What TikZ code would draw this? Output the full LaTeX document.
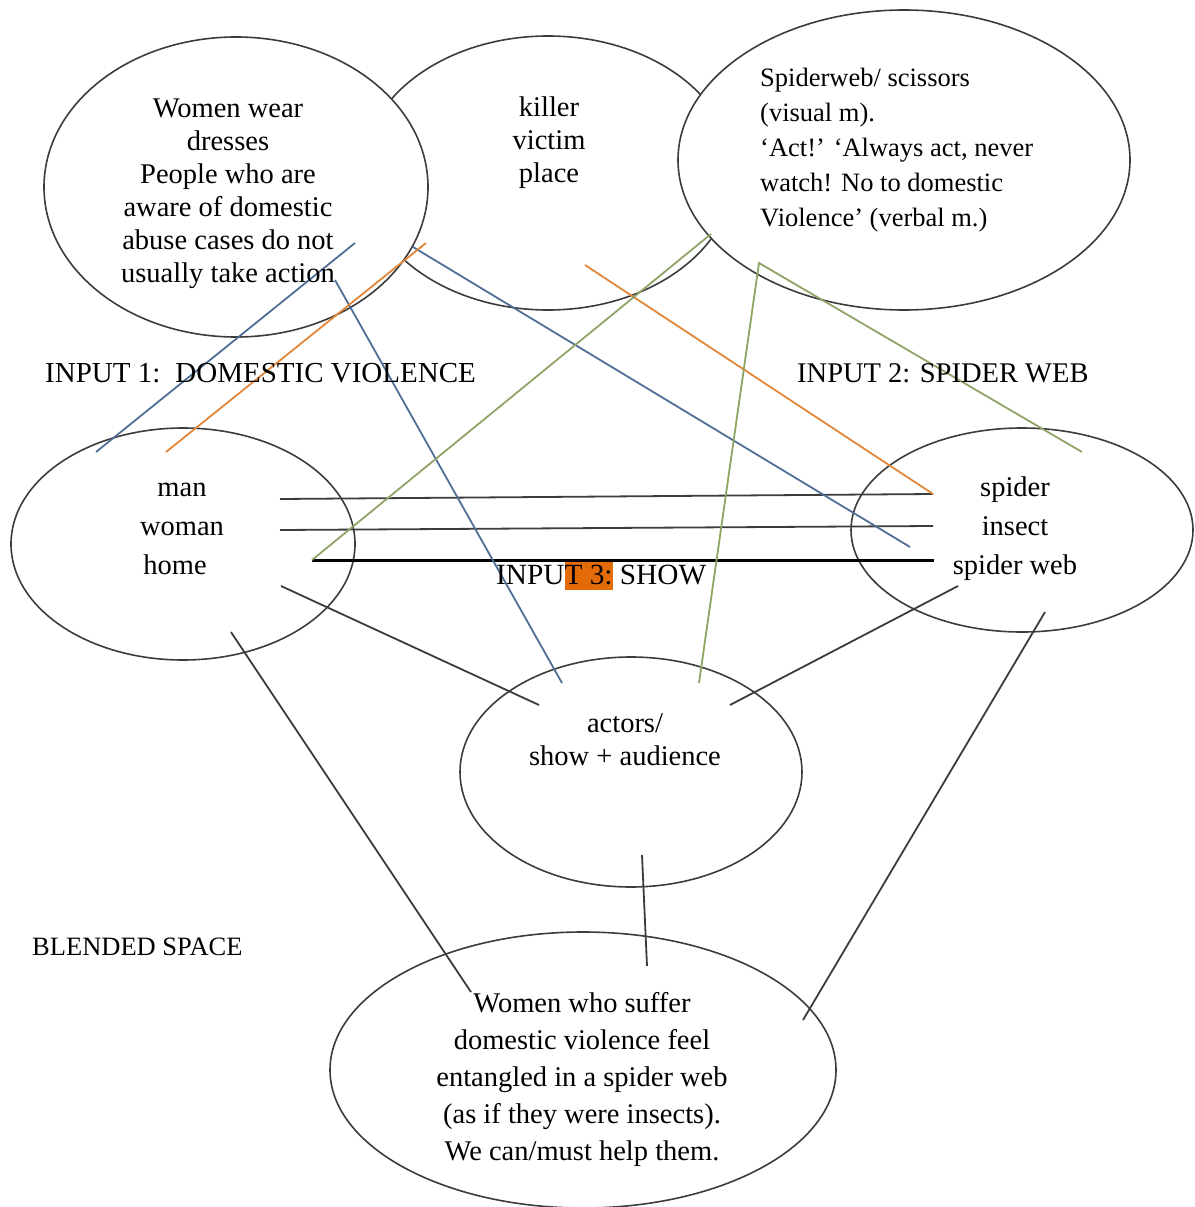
\documentclass[tikz,border=0pt]{standalone}
\usepackage{fontspec}
\setmainfont{Liberation Serif}
\usetikzlibrary{shapes.geometric}

\definecolor{ink}{HTML}{3C3C3C}
\definecolor{linkblue}{HTML}{4F6F96}
\definecolor{linkorange}{HTML}{E2863A}
\definecolor{linkgreen}{HTML}{8FA466}
\definecolor{hlorange}{HTML}{E36C09}

\tikzset{
  space/.style={ellipse, draw=ink, line width=1.6pt, fill=white, inner sep=0pt},
  txt/.style={inner sep=0pt, font=\fontsize{28.5}{33}\selectfont, align=center},
  label/.style={inner sep=0pt, anchor=west, font=\fontsize{29.3}{33}\selectfont},
  link/.style={line width=1.8pt, ink},
  bluelink/.style={line width=1.8pt, linkblue},
  orangelink/.style={line width=1.8pt, linkorange},
  greenlink/.style={line width=1.8pt, linkgreen},
}

\begin{document}
\begin{tikzpicture}[x=1pt, y=-1pt]
\useasboundingbox (0,0) rectangle (1194,1207);

% the three upper mental spaces (middle one lies underneath)
\node[space, minimum width=372pt, minimum height=274pt] (frame) at (548,173) {};
\node[space, minimum width=384pt, minimum height=300pt] (dv) at (236,187) {};
\node[space, minimum width=452pt, minimum height=300pt] (web) at (904,160) {};

% generic inputs, show space and blend
\node[space, minimum width=344pt, minimum height=232pt] (mwh) at (183,544) {};
\node[space, minimum width=342pt, minimum height=204pt] (sis) at (1022,530) {};
\node[space, minimum width=342pt, minimum height=230pt] (show) at (631,772) {};
\node[space, minimum width=506pt, minimum height=276pt] (blend) at (583,1070) {};

% end points of the correspondence lines
\coordinate (pMan) at (280,499);
\coordinate (pWoman) at (280,530);
\coordinate (pHome) at (312,560);
\coordinate (pSpider) at (933,494);
\coordinate (pInsect) at (933,526);
\coordinate (pWebEnd) at (934,560);
\coordinate (pMwhShow) at (281,586);
\coordinate (pShowL) at (539,705);
\coordinate (pSisShow) at (958,586);
\coordinate (pShowR) at (730,705);
\coordinate (pMwhBlend) at (231,632);
\coordinate (pBlendL) at (471,992);
\coordinate (pSisBlend) at (1045,612);
\coordinate (pBlendR) at (803,1020);
\coordinate (pShowB) at (642,855);
\coordinate (pBlendT) at (647,966);

\coordinate (bA1) at (355,243);
\coordinate (bD1) at (96,452);
\coordinate (bA2) at (335,280);
\coordinate (bF2) at (562,683);
\coordinate (bA3) at (413,247);
\coordinate (bE3) at (910,547);

\coordinate (oA) at (426,243);
\coordinate (oD) at (166,452);
\coordinate (oB) at (585,265);

\coordinate (gC) at (711,234);
\coordinate (gF) at (699,683);
\coordinate (gApex) at (759,263);
\coordinate (gE) at (1082,452);

% dark correspondence lines
\draw[link] (pMan) -- (pSpider);
\draw[link] (pWoman) -- (pInsect);
\draw[line width=3pt, black] (pHome) -- (pWebEnd);
\draw[link] (pMwhShow) -- (pShowL);
\draw[link] (pSisShow) -- (pShowR);
\draw[link] (pMwhBlend) -- (pBlendL);
\draw[link] (pSisBlend) -- (pBlendR);
\draw[link] (pShowB) -- (pBlendT);

% coloured correspondence lines
\draw[bluelink] (bA1) -- (bD1);
\draw[bluelink] (bA2) -- (bF2);
\draw[bluelink] (bA3) -- (bE3);
\draw[orangelink] (oA) -- (oD);
\draw[orangelink] (oB) -- (pSpider);
\draw[greenlink] (pHome) -- (gC);
\draw[greenlink] (gF) -- (gApex) -- (gE);

% texts
\node[txt] (tDv) at (228,194) {Women wear\\dresses\\People who are\\aware of domestic\\abuse cases do not\\usually take action};
\node[txt] (tFrame) at (549,143) {killer\\victim\\place};
\node[txt, anchor=west, align=left, font=\fontsize{26.5}{35}\selectfont] (tWeb) at (760,150)
  {Spiderweb/ scissors\\(visual m).\\‘Act!’ ‘Always act, never\\watch! No to domestic\\Violence’ (verbal m.)};
\node[label, font=\fontsize{29}{33}\selectfont] (lab1) at (45,373) {INPUT 1:\hspace{15pt}DOMESTIC VIOLENCE};
\node[label, font=\fontsize{28.5}{33}\selectfont] (lab2) at (797,373) {INPUT 2: SPIDER WEB};
\node[txt, font=\fontsize{28.5}{39}\selectfont] (tMwh) at (182,529) {man\\woman\\home\hspace*{14pt}};
\node[txt, font=\fontsize{28.5}{39}\selectfont] (tSis) at (1015,529) {spider\\insect\\spider web};
\node[label] (lab3) at (496,576)
  {INPU{\setlength\fboxsep{0pt}\colorbox{hlorange}{\rule[-5.5pt]{0pt}{28pt}T 3:}} SHOW};
\node[txt] (tShow) at (625,740) {actors/\\show + audience};
\node[label, font=\fontsize{26.5}{30}\selectfont] (lab4) at (32,947) {BLENDED SPACE};
\node[txt, font=\fontsize{28.5}{37}\selectfont] (tBlend) at (582,1079)
  {Women who suffer\\domestic violence feel\\entangled in a spider web\\(as if they were insects).\\We can/must help them.};
\end{tikzpicture}
\end{document}
